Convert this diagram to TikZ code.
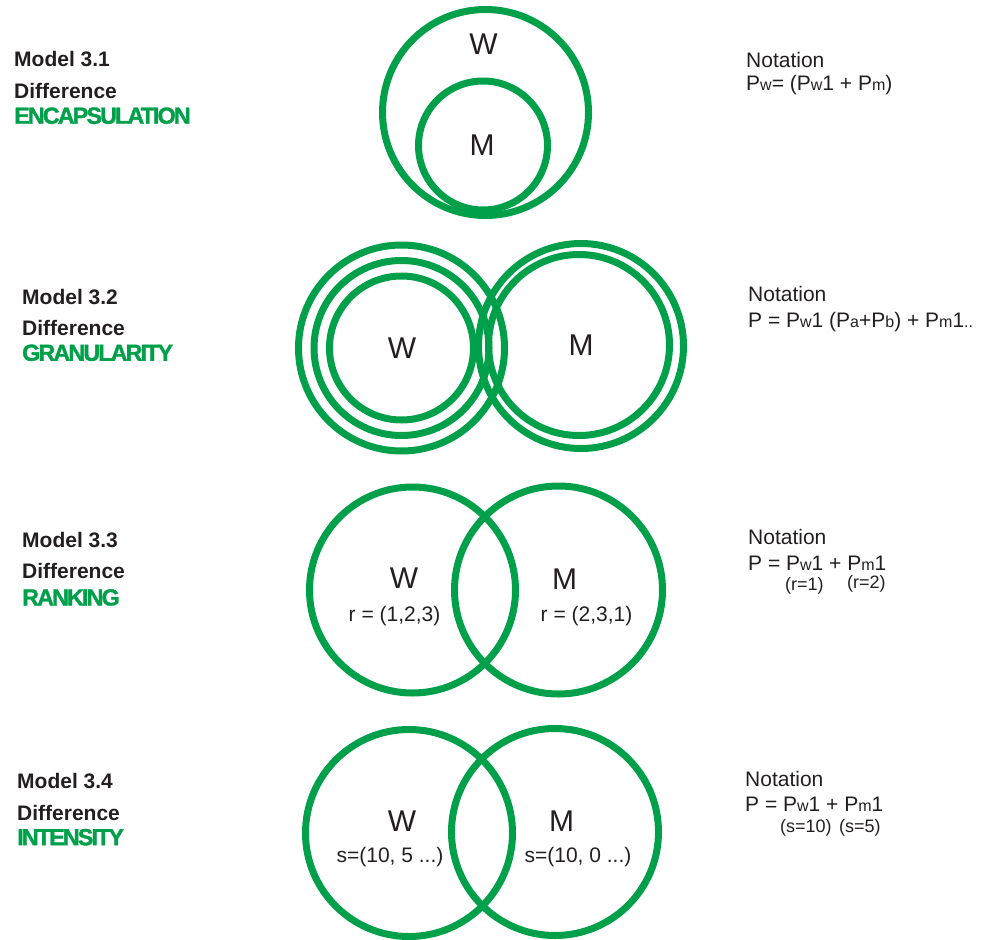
\documentclass[tikz,border=0pt]{standalone}
\usepackage{fontspec}
\setmainfont{Liberation Sans}
\newfontfamily\titlefont[LetterSpace=-8,FakeBold=1.5]{Liberation Sans}
\definecolor{vgreen}{RGB}{0,160,75}
\definecolor{ink}{RGB}{35,31,32}
\newcommand{\sm}[1]{{\fontsize{16}{16}\selectfont #1}}
\begin{document}
\begin{tikzpicture}[x=1pt,y=-1pt,
  ring/.style={draw=vgreen,line width=7pt},
  lab/.style={text=ink,inner sep=0pt,anchor=west,font=\fontsize{21}{25}\selectfont\bfseries},
  ttl/.style={text=vgreen,inner sep=0pt,anchor=west,font=\fontsize{23.3}{28}\selectfont\titlefont\bfseries},
  big/.style={text=ink,inner sep=0pt,font=\fontsize{30}{36}\selectfont},
  val/.style={text=ink,inner sep=0pt,font=\fontsize{21}{25}\selectfont},
  nota/.style={text=ink,inner sep=0pt,anchor=base west,font=\fontsize{21}{25}\selectfont},
  note/.style={text=ink,inner sep=0pt,anchor=base west,font=\fontsize{18}{22}\selectfont},
]
\useasboundingbox (0,0) rectangle (987,939);

% ---- Model 3.1
\node[lab] (m1) at (14,59) {Model 3.1};
\node[lab] (d1) at (14,91) {Difference};
\node[ttl] (t1) at (14,115.7) {ENCAPSULATION};
\draw[ring] (485.5,112.5) circle[radius=103pt];
\draw[ring] (483,145.5) circle[radius=64.5pt];
\node[big] (w1) at (483.5,44) {W};
\node[big] (mm1) at (482,145) {M};
\node[nota] (n1) at (746,67.3) {Notation};
\node[nota] (f1) at (746,90.7) {P\sm{w}= (P\sm{w}1 + P\sm{m})};

% ---- Model 3.2
\node[lab] (m2) at (22,296.7) {Model 3.2};
\node[lab] (d2) at (22,327.5) {Difference};
\node[ttl] (t2) at (22,352.8) {GRANULARITY};
\draw[ring] (401.5,348) circle[radius=103pt];
\draw[ring] (401.5,348) circle[radius=87.5pt];
\draw[ring] (401.5,348) circle[radius=72pt];
\draw[ring] (581,346) circle[radius=102.5pt];
\draw[ring] (579,345) circle[radius=90.5pt];
\node[big] (w2) at (402,348.5) {W};
\node[big] (mm2) at (581,345) {M};
\node[nota] (n2) at (748,301.7) {Notation};
\node[nota] (f2) at (748,327.7) {P = P\sm{w}1 (P\sm{a}+P\sm{b}) + P\sm{m}1\sm{..}};

% ---- Model 3.3
\node[lab] (m3) at (22,540) {Model 3.3};
\node[lab] (d3) at (22,570.8) {Difference};
\node[ttl] (t3) at (22,597.5) {RANKING};
\draw[ring] (412.5,590) circle[radius=103pt];
\draw[ring] (558.5,590) circle[radius=104pt];
\node[big] (w3) at (404,578) {W};
\node[val] (r3a) at (394.5,616) {r = (1,2,3)};
\node[big] (mm3) at (564.5,579) {M};
\node[val] (r3b) at (586.5,616) {r = (2,3,1)};
\node[nota] (n3) at (748,544.3) {Notation};
\node[nota] (f3) at (748,570) {P = P\sm{w}1 + P\sm{m}1};
\node[note] (k3a) at (785,590.5) {(r=1)};
\node[note] (k3b) at (847,588.8) {(r=2)};

% ---- Model 3.4
\node[lab] (m4) at (17,780.8) {Model 3.4};
\node[lab] (d4) at (17,812.5) {Difference};
\node[ttl] (t4) at (17,837.2) {INTENSITY};
\draw[ring] (409,833) circle[radius=103.5pt];
\draw[ring] (555,832) circle[radius=103.5pt];
\node[big] (w4) at (402,821) {W};
\node[val] (s4a) at (390,857.5) {s=(10, 5 ...)};
\node[big] (mm4) at (561.5,821) {M};
\node[val] (s4b) at (578,857.5) {s=(10, 0 ...)};
\node[nota] (n4) at (745,786) {Notation};
\node[nota] (f4) at (745,811.7) {P = P\sm{w}1 + P\sm{m}1};
\node[note] (k4a) at (780,832.4) {(s=10)};
\node[note] (k4b) at (839,832.4) {(s=5)};
\end{tikzpicture}
\end{document}
